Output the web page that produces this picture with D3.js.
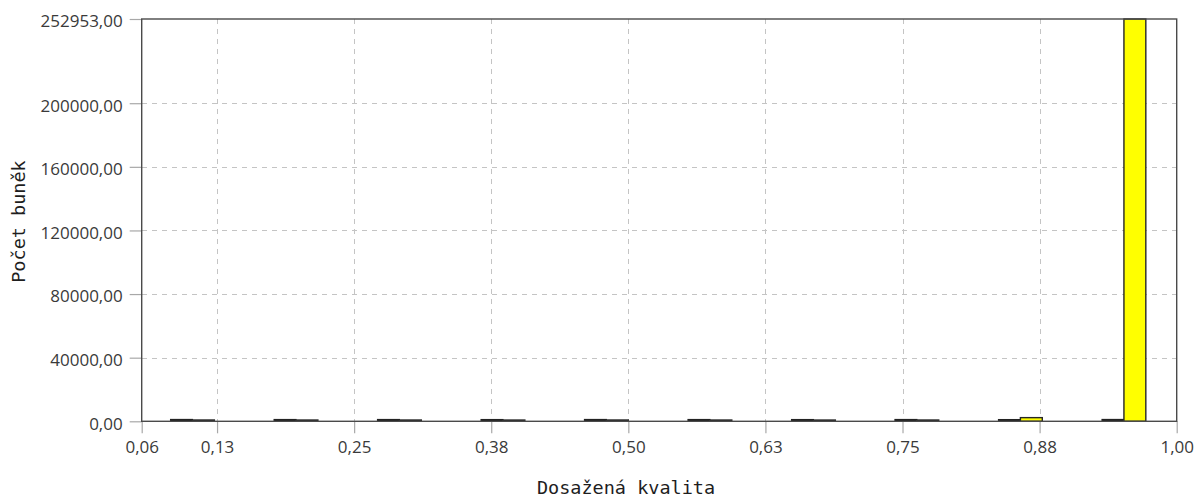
<!DOCTYPE html>
<html>
<head>
<meta charset="utf-8">
<script src="https://cdn.jsdelivr.net/npm/d3@7/dist/d3.min.js"></script>
<style>
  html, body { margin: 0; padding: 0; background: #ffffff; }
  svg { display: block; }
  .tick text { font-family: "Segoe UI", "Open Sans", "Noto Sans", sans-serif; font-size: 17px; fill: #3a3a3a; }
  .title { font-family: "DejaVu Sans Mono", "Liberation Mono", monospace; font-size: 18.5px; fill: #1e1e1e; }
</style>
</head>
<body>
<svg id="chart" width="1195" height="499"></svg>
<script>
// Histogram of achieved quality: bin centres and counts per bin for two series
const binCenters = [0.1035, 0.1979, 0.2922, 0.3866, 0.4809, 0.5753, 0.6697, 0.7640, 0.8584, 0.9528];
const countsDark   = [1150, 1120, 1130, 1100, 1140, 1120, 1100, 1130, 1080, 1150];
const countsYellow = [820, 800, 810, 790, 820, 800, 790, 810, 2300, 252953];

const xDomain = [0.0563, 1.0];
const yDomain = [0, 252953];
const xTickValues = [0.0563, 0.125, 0.25, 0.375, 0.5, 0.625, 0.75, 0.875, 1.0];
const yTickValues = [0, 40000, 80000, 120000, 160000, 200000, 252953];
const xGridValues = [0.125, 0.25, 0.375, 0.5, 0.625, 0.75, 0.875];
const yGridValues = [40000, 80000, 120000, 160000, 200000];

const xLabel = "Dosažená kvalita";
const yLabel = "Počet buněk";

const plotLeft = 141.7, plotRight = 1176.7, plotTop = 19, plotBottom = 421.3;

const svg = d3.select("#chart");

const x = d3.scaleLinear().domain(xDomain).range([plotLeft, plotRight]);
const y = d3.scaleLinear().domain(yDomain).range([plotBottom, plotTop]);

const locale = d3.formatLocale({ decimal: ",", thousands: "", grouping: [3], currency: ["", ""] });
const fmt = locale.format(".2f");

// dashed grid
const grid = svg.append("g").attr("stroke", "#c4c4c4").attr("stroke-width", 1)
  .attr("stroke-dasharray", "5,5").attr("shape-rendering", "crispEdges");
grid.selectAll("line.gx").data(xGridValues).join("line")
  .attr("x1", d => Math.round(x(d)) + 0.5).attr("x2", d => Math.round(x(d)) + 0.5)
  .attr("y1", plotTop).attr("y2", plotBottom);
grid.selectAll("line.gy").data(yGridValues).join("line")
  .attr("y1", d => Math.round(y(d)) + 0.5).attr("y2", d => Math.round(y(d)) + 0.5)
  .attr("x1", plotLeft).attr("x2", plotRight);

// bars: two bars side by side in each bin
const pairWidth = (plotRight - plotLeft) / binCenters.length * 0.423;
const barW = pairWidth / 2;
const bars = svg.append("g");
bars.selectAll("rect.dark").data(binCenters).join("rect")
  .attr("class", "dark")
  .attr("x", d => x(d) - barW - 1)
  .attr("width", barW)
  .attr("y", (d, i) => y(countsDark[i]))
  .attr("height", (d, i) => plotBottom - y(countsDark[i]))
  .attr("fill", "#111111").attr("stroke", "#222222").attr("stroke-width", 1.2);
bars.selectAll("rect.yellow").data(binCenters).join("rect")
  .attr("class", "yellow")
  .attr("x", d => x(d) - 1)
  .attr("width", barW)
  .attr("y", (d, i) => y(countsYellow[i]))
  .attr("height", (d, i) => plotBottom - y(countsYellow[i]))
  .attr("fill", "#ffff00").attr("stroke", "#262626").attr("stroke-width", 1.4);

// axes
const xAxis = d3.axisBottom(x).tickValues(xTickValues).tickSize(12).tickPadding(8).tickFormat(fmt);
const yAxis = d3.axisLeft(y).tickValues(yTickValues).tickSize(12).tickPadding(7).tickFormat(fmt);

const gx = svg.append("g").attr("transform", `translate(0,${plotBottom})`).call(xAxis);
const gy = svg.append("g").attr("transform", `translate(${plotLeft},0)`).call(yAxis);
[gx, gy].forEach(g => {
  g.select(".domain").remove();
  g.selectAll(".tick line").attr("stroke", "#a8a8a8").attr("stroke-width", 1.2);
});
gy.selectAll(".tick text").attr("dy", "0.46em");

// plot frame
svg.append("rect")
  .attr("x", plotLeft).attr("y", plotTop)
  .attr("width", plotRight - plotLeft).attr("height", plotBottom - plotTop)
  .attr("fill", "none").attr("stroke", "#4a4a4a").attr("stroke-width", 1.4);

// axis titles
svg.append("text").attr("class", "title")
  .attr("x", 626).attr("y", 494)
  .attr("text-anchor", "middle").text(xLabel);
svg.append("text").attr("class", "title")
  .attr("transform", "translate(25,221.5) rotate(-90)")
  .attr("text-anchor", "middle").text(yLabel);
</script>
</body>
</html>
